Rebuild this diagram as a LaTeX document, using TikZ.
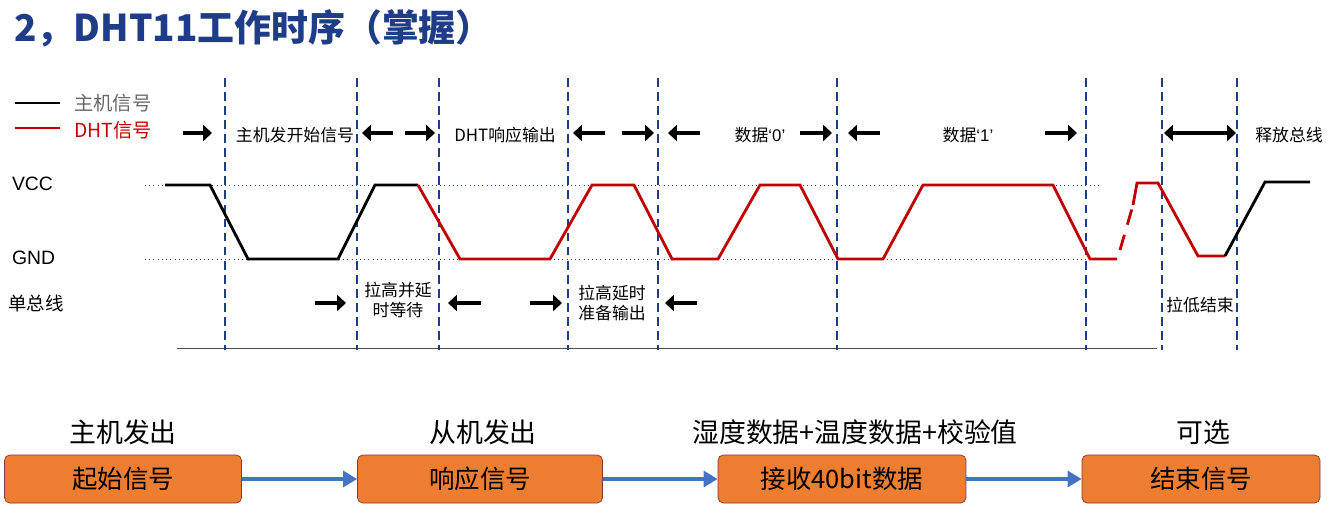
\documentclass[tikz,border=0pt]{standalone}
\usepackage{fontspec}
\setmainfont{Liberation Sans}
\newfontfamily\cjk{Noto Sans CJK SC}
\usetikzlibrary{arrows.meta}
\definecolor{titleblue}{HTML}{1F3C88}
\definecolor{dhtred}{HTML}{C00000}
\definecolor{boxorange}{HTML}{ED7D31}
\definecolor{boxedge}{HTML}{C0504D}
\definecolor{flowblue}{HTML}{4472C4}
\begin{document}
\begin{tikzpicture}[x=0.02cm,y=-0.02cm,
    lbl/.style = {font=\cjk\fontsize{9.6}{11.5}\selectfont, inner sep=1pt},
    big/.style = {font=\cjk\fontsize{15.3}{18}\selectfont, inner sep=1pt},
    stagebox/.style = {draw=boxedge!70!black, fill=boxorange, rounded corners=3pt, minimum height=0.96cm, font=\cjk\fontsize{14.5}{17}\selectfont},
    host/.style = {line width=1.6pt, black},
    dht/.style = {line width=1.6pt, dhtred},
    spanarrow/.style = {line width=2.6pt, -{Triangle[length=5pt,width=9pt]}},
    divider/.style = {titleblue, dash pattern=on 5pt off 3pt, semithick},
    level/.style = {titleblue, dotted, thin}]
  \useasboundingbox (0,0) rectangle (1327,511);
  % title
  \node[anchor=west, titleblue, font=\cjk\bfseries\fontsize{21}{24}\selectfont] (title) at (8,28) {2，DHT11工作时序（掌握）};
  % legend
  \draw[host] (15,103) -- (60,103);
  \node[lbl, anchor=west, gray!80!black, font=\cjk\fontsize{11}{13}\selectfont] (leghost) at (72,103) {主机信号};
  \draw[dht] (15,128) -- (60,128);
  \node[lbl, anchor=west, dhtred, font=\cjk\fontsize{11}{13}\selectfont] (legdht) at (72,130) {DHT信号};
  % axes labels
  \node[lbl, anchor=west, font=\fontsize{11}{13}\selectfont] (vcc) at (10,184) {VCC};
  \node[lbl, anchor=west, font=\fontsize{11}{13}\selectfont] (gnd) at (10,258) {GND};
  \node[lbl, anchor=west, font=\cjk\fontsize{10.5}{12}\selectfont] (bus) at (6,303) {单总线};
  \draw[level] (145,185) -- (1100,185);
  \draw[level] (145,259) -- (1090,259);
  \draw[gray!60!black, thin] (177,348) -- (1157,348);
  \foreach \x in {225,357,439,568,658,837,1086,1162,1237}
    \draw[divider] (\x,78) -- (\x,350);
  % waveform
  \draw[host] (165,185) -- (210,185) -- (248,259) -- (338,259) -- (375,185) -- (418,185);
  \draw[dht] (418,185) -- (460,259) -- (550,259) -- (592,185) -- (634,185) -- (672,259)
    -- (718,259) -- (760,185) -- (800,185) -- (838,259) -- (883,259) -- (923,185)
    -- (1053,185) -- (1090,259) -- (1117,259);
  \draw[dht, dash pattern=on 9pt off 6pt] (1120,250) -- (1133,205);
  \draw[dht] (1133,205) -- (1137,183) -- (1158,183) -- (1198,256) -- (1225,256);
  \draw[host] (1225,256) -- (1265,182) -- (1310,182);
  % phase labels
  \draw[spanarrow] (183,133) -- (212,133);
  \node[lbl] (start) at (295,135) {主机发开始信号};
  \draw[spanarrow] (393,133) -- (362,133);
  \draw[spanarrow] (405,133) -- (435,133);
  \node[lbl] (resp) at (505,135) {DHT响应输出};
  \draw[spanarrow] (605,133) -- (573,133);
  \draw[spanarrow] (622,133) -- (654,133);
  \draw[spanarrow] (700,133) -- (668,133);
  \node[lbl] (zero) at (760,135) {数据{\rmfamily‘0’}};
  \draw[spanarrow] (800,133) -- (832,133);
  \draw[spanarrow] (880,133) -- (848,133);
  \node[lbl] (one) at (968,135) {数据{\rmfamily‘1’}};
  \draw[spanarrow] (1045,133) -- (1077,133);
  \draw[line width=2.6pt, {Triangle[length=5pt,width=9pt]}-{Triangle[length=5pt,width=9pt]}] (1164,133) -- (1236,133);
  \node[lbl] (release) at (1289,135) {释放总线};
  \draw[spanarrow] (315,303) -- (346,303);
  \node[lbl, align=center] (wait) at (398,300) {拉高并延\\时等待};
  \draw[spanarrow] (481,303) -- (448,303);
  \draw[spanarrow] (530,303) -- (562,303);
  \node[lbl, align=center] (ready) at (612,303) {拉高延时\\准备输出};
  \draw[spanarrow] (697,303) -- (665,303);
  \node[lbl] (endlow) at (1200,305) {拉低结束};
  % flow
  \node[stagebox, minimum width=4.74cm] (s1) at (123,479) {起始信号};
  \node[stagebox, minimum width=4.9cm] (s2) at (480,479) {响应信号};
  \node[stagebox, minimum width=4.96cm] (s3) at (842,479) {接收40bit数据};
  \node[stagebox, minimum width=4.76cm] (s4) at (1201,479) {结束信号};
  \node[big] (h1) at (123,432) {主机发出};
  \node[big] (h2) at (483,432) {从机发出};
  \node[big] (h3) at (855,432) {湿度数据+温度数据+校验值};
  \node[big] (h4) at (1203,432) {可选};
  \foreach \a/\b in {s1/s2,s2/s3,s3/s4}
    \draw[flowblue, line width=2pt, -{Triangle[length=8pt,width=9pt]}] (\a) -- (\b);
\end{tikzpicture}
\end{document}
